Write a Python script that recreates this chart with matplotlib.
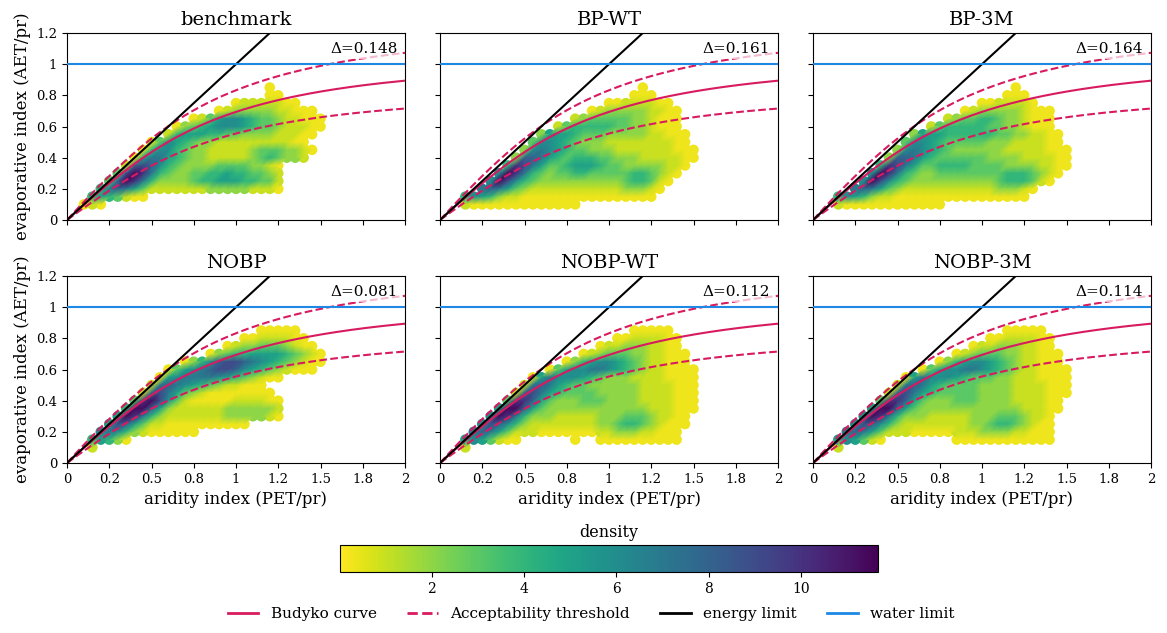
import numpy as np
import matplotlib
matplotlib.use("Agg")
import matplotlib.pyplot as plt
from matplotlib.lines import Line2D
from matplotlib.colors import Normalize

plt.rcParams['font.family'] = ['DejaVu Serif']

# ---------------- data ----------------
panel_titles = ["benchmark", "BP-WT", "BP-3M", "NOBP", "NOBP-WT", "NOBP-3M"]
delta_values = [0.148, 0.161, 0.164, 0.081, 0.112, 0.114]

x_tick_values = [0, 0.25, 0.5, 0.75, 1.0, 1.25, 1.5, 1.75, 2.0]
x_tick_labels = ["0", "0.2", "0.5", "0.8", "1", "1.2", "1.5", "1.8", "2"]
y_tick_values = [0, 0.2, 0.4, 0.6, 0.8, 1.0, 1.2]
y_tick_labels = ["0", "0.2", "0.4", "0.6", "0.8", "1", "1.2"]
cbar_ticks = [2, 4, 6, 8, 10]
density_min, density_max = 0.02, 11.66

# Point-density on a 0.05 grid:
# (evaporative index y, first column k with x = 0.05*k, density code per column)
# codes: '.' none, '0' ~0.3, '1'..'9', 'a' = 10, 'b' = 11.3
cell_step = 0.05
density_codes = {'0': 0.3, '1': 1, '2': 2, '3': 3, '4': 4, '5': 5, '6': 6,
                 '7': 7, '8': 8, '9': 9, 'a': 10, 'b': 11.3}

benchmark_cells = [
    (0.85, 24, "0"),
    (0.80, 24, "00"),
    (0.75, 20, "01111100"),
    (0.70, 18, "012222211000"),
    (0.65, 15, "0135665433211000"),
    (0.60, 13, "023456665433211100"),
    (0.55, 12, "145554433222211100"),
    (0.50, 10, "0365432211111111100"),
    (0.45, 9, "046643221111123332210"),
    (0.40, 8, "057754322111112343221"),
    (0.35, 7, "1898643222233332210"),
    (0.30, 6, "39ba7432233445443321"),
    (0.25, 5, "38ba74222234455544331"),
    (0.20, 4, "4787531111111222221110"),
    (0.15, 3, "4543100"),
    (0.10, 2, "010"),
]

bp_wt_cells = [
    (0.85, 24, "0"),
    (0.80, 23, "000"),
    (0.75, 20, "00111100"),
    (0.70, 18, "01222221100"),
    (0.65, 16, "1233333221000"),
    (0.60, 14, "134444433221000"),
    (0.55, 12, "255543332222211000"),
    (0.50, 11, "3665432221111111100"),
    (0.45, 10, "267654332221111111000"),
    (0.40, 9, "2887543444332221111100"),
    (0.35, 8, "4a97533455543322222110"),
    (0.30, 7, "6ba7432334433333443210"),
    (0.25, 6, "6b96432222222222344310"),
    (0.20, 5, "7875321111111111122210"),
    (0.15, 3, "46542110000000000000000"),
    (0.10, 3, "10000000000000"),
]

bp_3m_cells = [
    (0.85, 24, "0"),
    (0.80, 23, "000"),
    (0.75, 20, "0011110"),
    (0.70, 18, "01222221000"),
    (0.65, 16, "1233443221000"),
    (0.60, 14, "134444433221000"),
    (0.55, 12, "255544444433221100"),
    (0.50, 11, "3665433333222111100"),
    (0.45, 10, "267654322222211111000"),
    (0.40, 9, "2887543333332222111100"),
    (0.35, 8, "4a975334444333322221100"),
    (0.30, 7, "6ba74322333333334443210"),
    (0.25, 6, "6b964322222222223444310"),
    (0.20, 5, "7875321111111111122210"),
    (0.15, 3, "46542110000000000000000"),
    (0.10, 3, "1000000000000"),
]

nobp_cells = [
    (0.85, 23, "00000"),
    (0.80, 21, "00111100"),
    (0.75, 19, "01223332100"),
    (0.70, 17, "02344555543210"),
    (0.65, 14, "02468998765432100"),
    (0.60, 12, "035678998654321000"),
    (0.55, 11, "056777765432100"),
    (0.50, 10, "17876543211000"),
    (0.45, 9, "1897532100000000"),
    (0.40, 8, "3ab963100000111100"),
    (0.35, 7, "4bb8521111112222221"),
    (0.30, 6, "5ba74211111112222210"),
    (0.25, 5, "59853110000000000"),
    (0.20, 4, "676421000000"),
    (0.15, 3, "45420"),
    (0.10, 3, "1"),
]

nobp_wt_cells = [
    (0.85, 23, "00000"),
    (0.80, 21, "00111100"),
    (0.75, 19, "0112221100"),
    (0.70, 17, "0123332211000"),
    (0.65, 15, "024566543211000"),
    (0.60, 13, "035667765432110000"),
    (0.55, 11, "05766654322211110000"),
    (0.50, 10, "178754332222221111000"),
    (0.45, 9, "1897543333222221111000"),
    (0.40, 8, "3aa85322233322221111000"),
    (0.35, 7, "5bb853222222222222111000"),
    (0.30, 6, "6ba742221111122233321100"),
    (0.25, 5, "6986421111111122344321000"),
    (0.20, 4, "7875311100000001122211000"),
    (0.15, 3, "5653100......0..0000000000"),
    (0.10, 3, "1"),
]

nobp_3m_cells = [
    (0.85, 23, "00000"),
    (0.80, 21, "00111100"),
    (0.75, 19, "0112221100"),
    (0.70, 17, "0123332211000"),
    (0.65, 15, "024566543211000"),
    (0.60, 13, "035667765432110000"),
    (0.55, 11, "05766654333221110000"),
    (0.50, 10, "178754333322221111000"),
    (0.45, 9, "1897543333322221111000"),
    (0.40, 8, "3aa8532223332222111100"),
    (0.35, 7, "5bb85322222222222211100"),
    (0.30, 6, "6ba74222111112223332110"),
    (0.25, 5, "698642111111112234432100"),
    (0.20, 4, "7875311100000111222211000"),
    (0.15, 3, "565310........000000000000"),
    (0.10, 3, "1"),
]

panel_cells = [benchmark_cells, bp_wt_cells, bp_3m_cells,
               nobp_cells, nobp_wt_cells, nobp_3m_cells]

# ---------------- styling ----------------
budyko_color = "#d81b60"
energy_color = "black"
water_color = "#1e88e5"
cmap = plt.get_cmap("viridis_r")
norm = Normalize(vmin=density_min, vmax=density_max)


def cells_to_points(cells):
    """Return point arrays plus a gouraud triangulation of filled neighbours."""
    xs, ys, ds = [], [], []
    index = {}
    for y, k0, codes in cells:
        row = int(round(y / cell_step))
        for i, ch in enumerate(codes):
            if ch == '.':
                continue
            index[(k0 + i, row)] = len(xs)
            xs.append((k0 + i) * cell_step)
            ys.append(y)
            ds.append(density_codes[ch])
    tris = []
    for (k, r), p in index.items():
        corners = [(k, r), (k + 1, r), (k + 1, r + 1), (k, r + 1)]
        present = [index.get(c) for c in corners]
        filled = [v for v in present if v is not None]
        if len(filled) == 4:
            tris.append([present[0], present[1], present[2]])
            tris.append([present[0], present[2], present[3]])
        elif len(filled) == 3:
            tris.append(filled)
    return np.asarray(xs), np.asarray(ys), np.asarray(ds), np.asarray(tris)


fig = plt.figure(figsize=(11.67, 6.33), dpi=100)
col_left = [67 / 1167, 440 / 1167, 813 / 1167]
ax_w = 338 / 1167
row_bottom = [1 - 220 / 633, 1 - 463 / 633]
ax_h = 187 / 633

phi = np.linspace(1e-4, 2.0, 400)
budyko = np.sqrt(phi * np.tanh(1 / phi) * (1 - np.exp(-phi)))

for idx in range(6):
    r, c = divmod(idx, 3)
    ax = fig.add_axes([col_left[c], row_bottom[r], ax_w, ax_h])
    ax.set_axisbelow(True)
    ax.grid(True, linestyle='--', color='#b0b0b0', linewidth=0.8)

    xs, ys, ds, tris = cells_to_points(panel_cells[idx])
    order = np.argsort(ds, kind="stable")
    ax.scatter(xs[order], ys[order], c=ds[order], cmap=cmap, norm=norm,
               s=58, linewidths=0, zorder=1)
    if len(tris):
        ax.tripcolor(xs, ys, ds, triangles=tris, shading='gouraud',
                     cmap=cmap, norm=norm, zorder=1.5, antialiased=True)

    ax.plot(phi, budyko, color=budyko_color, lw=1.5, zorder=3)
    ax.plot(phi, 1.2 * budyko, color=budyko_color, lw=1.5, ls='--', zorder=3)
    ax.plot(phi, 0.8 * budyko, color=budyko_color, lw=1.5, ls='--', zorder=3)
    ax.plot([0, 2], [0, 2], color=energy_color, lw=1.5, zorder=3)
    ax.axhline(1.0, color=water_color, lw=1.5, zorder=3)

    ax.text(1.955, 1.095, f"Δ={delta_values[idx]:.3f}", ha='right', va='center',
            fontsize=11, zorder=5,
            bbox=dict(facecolor='white', alpha=0.7, edgecolor='none', pad=1.5))

    ax.set_xlim(0, 2)
    ax.set_ylim(0, 1.2)
    ax.set_xticks(x_tick_values)
    ax.set_yticks(y_tick_values)
    if r == 1:
        ax.set_xticklabels(x_tick_labels, fontsize=9.5)
        ax.set_xlabel("aridity index (PET/pr)", fontsize=12)
    else:
        ax.set_xticklabels([])
    if c == 0:
        ax.set_yticklabels(y_tick_labels, fontsize=9.5)
        ax.set_ylabel("evaporative index (AET/pr)", fontsize=12)
    else:
        ax.set_yticklabels([])
    ax.set_title(panel_titles[idx], fontsize=14)

# colorbar
cax = fig.add_axes([340 / 1167, 1 - 572 / 633, 538 / 1167, 27 / 633])
sm = plt.cm.ScalarMappable(norm=norm, cmap=cmap)
cb = fig.colorbar(sm, cax=cax, orientation='horizontal', ticks=cbar_ticks)
cb.ax.tick_params(labelsize=10)
cax.set_title("density", fontsize=11.5, pad=6)

handles = [
    Line2D([], [], color=budyko_color, lw=2),
    Line2D([], [], color=budyko_color, lw=2, ls='--'),
    Line2D([], [], color=energy_color, lw=2),
    Line2D([], [], color=water_color, lw=2),
]
labels = ["Budyko curve", "Acceptability threshold", "energy limit", "water limit"]
fig.legend(handles, labels, loc='center', bbox_to_anchor=(591 / 1167, 1 - 614 / 633),
           ncol=4, frameon=False, fontsize=11, columnspacing=2.0)

fig.savefig("out.png", dpi=100)
